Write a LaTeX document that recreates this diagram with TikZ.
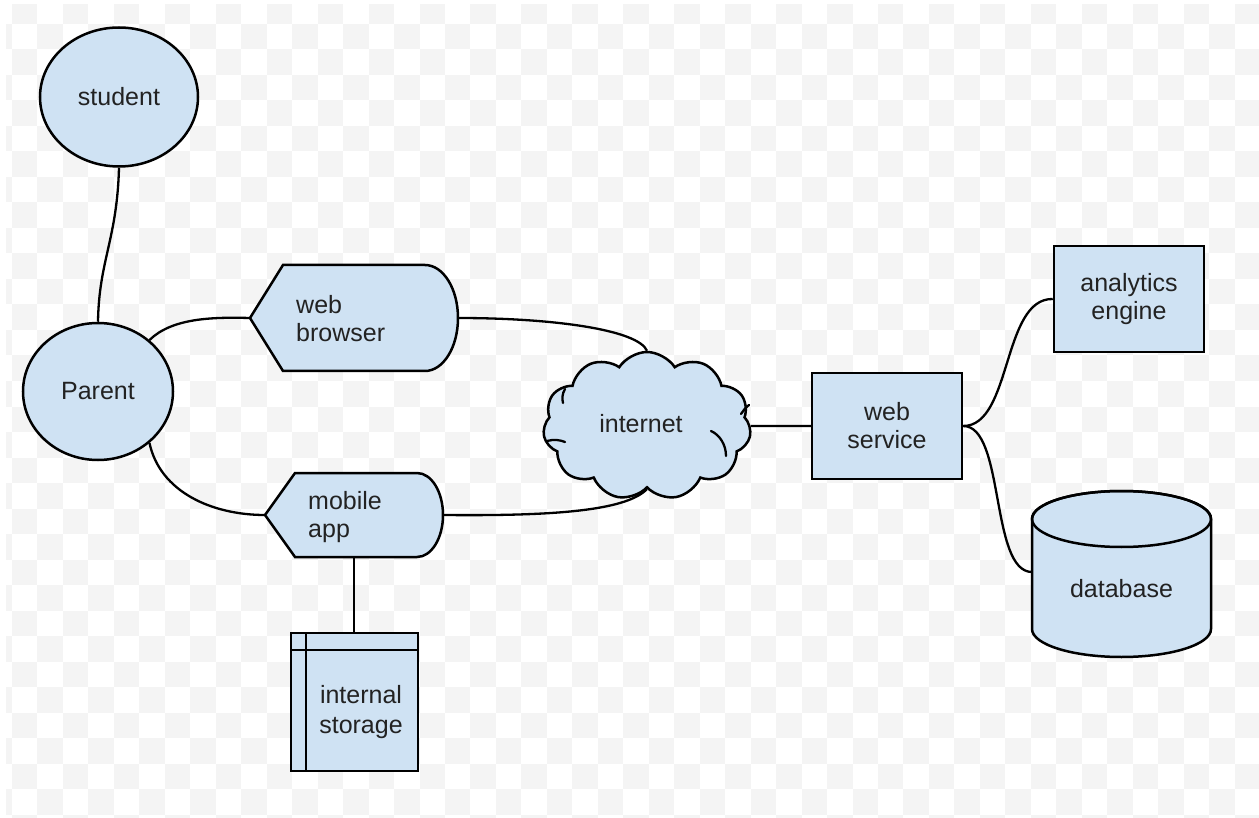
\documentclass[tikz,border=0pt]{standalone}
\usepackage{fontspec}
\setmainfont{Liberation Sans}
\usetikzlibrary{shapes.symbols,shapes.geometric}
\definecolor{boxfill}{RGB}{207,226,243}
\definecolor{checker}{RGB}{244,244,244}
\definecolor{txt}{RGB}{34,34,34}
\tikzset{
  shapeline/.style={draw=black, line width=2.5pt, fill=boxfill},
  conn/.style={draw=black, line width=2.3pt},
  lbl/.style={text=txt, font=\fontsize{25}{28}\selectfont, inner sep=0pt, align=center},
}
\begin{document}
\begin{tikzpicture}[x=1pt,y=-1pt]
\useasboundingbox (0,0) rectangle (1259,818);
\fill[white] (0,0) rectangle (1259,818);
% checkerboard background
\begin{scope}
\clip (6,5) rectangle (1259,818);
\foreach \i in {0,...,50}{%
  \foreach \j in {-1,...,31}{%
    \ifodd\numexpr\i+\j+2\relax\else
      \fill[checker] ({12+(\i-1)*25.47},{24+\j*25.5}) rectangle ++(25.47,25.5);
    \fi
  }
}
\end{scope}

% student and parent
\node[ellipse, shapeline, minimum width=158pt, minimum height=139pt, lbl] (student) at (119,97) {student};
\node[ellipse, shapeline, minimum width=150pt, minimum height=137pt, lbl] (parent) at (98,391.5) {Parent};

% web browser
\coordinate (wbL) at (250,318);
\coordinate (wbR) at (458,318);
\filldraw[shapeline, line join=miter] (wbL) -- (283,265) -- (425,265)
  .. controls (443.2,265) and (458,288.7) .. (wbR)
  .. controls (458,347.3) and (443.2,371) .. (425,371) -- (283,371) -- cycle;
\node[lbl, anchor=west, align=left] (wbtext) at (296,319) {web\\browser};

% mobile app
\coordinate (maL) at (265,515);
\coordinate (maR) at (443,515);
\coordinate (maB) at (354,557);
\filldraw[shapeline, line join=miter] (maL) -- (295,473) -- (417,473)
  .. controls (431.4,473) and (443,491.8) .. (maR)
  .. controls (443,538.2) and (431.4,557) .. (417,557) -- (295,557) -- cycle;
\node[lbl, anchor=west, align=left] (matext) at (308,517) {mobile\\app};

% internal storage
\coordinate (isT) at (354,633);
\filldraw[shapeline] (291,633) rectangle (418,771);
\draw[line width=2.5pt] (306,633) -- (306,771);
\draw[line width=2.5pt] (291,650) -- (418,650);
\node[lbl, font=\fontsize{25}{30}\selectfont] (istext) at (361,712) {internal\\storage};

% internet cloud
\node[cloud, cloud puffs=11, cloud puff arc=115, aspect=1.45, shapeline,
      minimum width=208pt, minimum height=148pt] (cloud) at (647,426) {};
\draw[line width=2.3pt, line cap=round] (547,441) .. controls (554,439) and (560,440) .. (565,442);
\draw[line width=2.3pt, line cap=round] (565,389) .. controls (562,394) and (562,399) .. (563,403);
\draw[line width=2.3pt, line cap=round] (749,405) .. controls (745,408) and (743,411) .. (741,414);
\draw[line width=2.3pt, line cap=round] (711,431) .. controls (720,435) and (726,445) .. (726,456);
\node[lbl] (inet) at (641,424) {internet};

% web service and analytics
\node[rectangle, shapeline, minimum width=150pt, minimum height=106pt, lbl] (ws) at (887,426) {web\\service};
\node[rectangle, shapeline, minimum width=150pt, minimum height=106pt, lbl] (ae) at (1129,299) {analytics\\engine};

% database
\coordinate (dbW) at (1032,572);
\filldraw[shapeline] (1032,519) -- (1032,629)
  arc[start angle=180, end angle=0, x radius=89.5, y radius=28]
  -- (1211,519)
  arc[start angle=0, end angle=-180, x radius=89.5, y radius=28] -- cycle;
\draw[line width=2.5pt] (1121.5,519) ellipse[x radius=89.5, y radius=28];
\node[lbl] (dbtext) at (1121.5,589) {database};

% connectors
\draw[conn] (student.south) .. controls (117,240) and (99,260) .. (parent.north);
\draw[conn] (parent.45) .. controls (172,318) and (212,317) .. (wbL);
\draw[conn] (parent.-45) .. controls (160,492) and (212,515) .. (maL);
\draw[conn] (wbR) .. controls (555,318) and (638,330) .. (cloud.north);
\draw[conn] (maR) .. controls (545,516) and (625,512) .. (cloud.south);
\draw[conn] (maB) -- (isT);
\draw[conn] (cloud.east) -- (ws.west);
\draw[conn] (ws.east) .. controls (1012,426) and (1002,298) .. (ae.west);
\draw[conn] (ws.east) .. controls (1005,426) and (990,572) .. (dbW);
\end{tikzpicture}
\end{document}
